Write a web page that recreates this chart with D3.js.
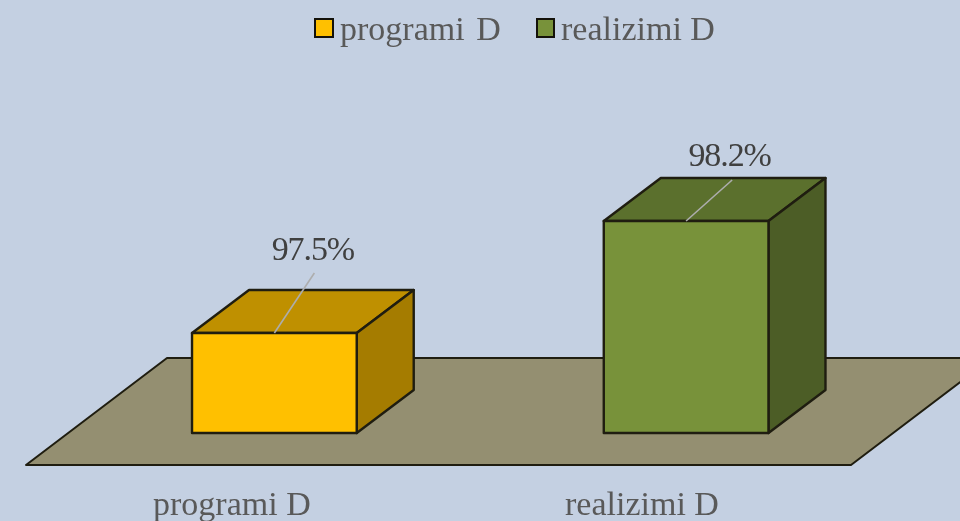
<!DOCTYPE html>
<html>
  <head>
    <meta charset="utf-8">
    <script src="https://d3js.org/d3.v7.min.js"></script>
    <style>
      html, body { margin: 0; padding: 0; background: #c4d0e2; overflow: hidden; }
      svg { display: block; filter: blur(0.4px); }
      text { font-family: "Liberation Serif", serif; }
    </style>
  </head>
  <body>
    <script>
      var categories = ["programi D", "realizimi D"];
      var values = [97.5, 98.2];
      var valueLabels = ["97.5%", "98.2%"];
      var frontColors = ["#ffc000", "#78923a"];
      var topColors = ["#bf9000", "#5b702d"];
      var sideColors = ["#a57c00", "#4c5d26"];

      var width = 960, height = 521;
      var baseY = 433;
      var depthX = 57, depthY = -43;   // offset of a bar's back face
      var stroke = "#1f1d10";

      var svg = d3.select("body").append("svg")
        .attr("width", width)
        .attr("height", height);

      var x = d3.scaleBand().domain(categories).range([68.5, 892])
        .paddingInner(0.6).paddingOuter(0.3);
      var y = d3.scaleLinear().domain([96.875, 98.2]).range([baseY, 221]);

      // floor
      svg.append("path")
        .attr("d", "M26,465 L851,465 L992,358 L167,358 Z")
        .attr("fill", "#948f71")
        .attr("stroke", stroke)
        .attr("stroke-width", 2)
        .attr("stroke-linejoin", "round");

      function poly(pts) {
        return "M" + pts.map(function (p) { return p.join(","); }).join(" L") + " Z";
      }

      var bars = svg.selectAll("g.bar").data(categories).enter()
        .append("g").attr("class", "bar");

      bars.each(function (d, i) {
        var g = d3.select(this);
        var x0 = x(d), x1 = x(d) + x.bandwidth(), t = y(values[i]);
        var faces = [
          [[x0, t], [x1, t], [x1 + depthX, t + depthY], [x0 + depthX, t + depthY]],
          [[x1, t], [x1 + depthX, t + depthY], [x1 + depthX, baseY + depthY], [x1, baseY]],
          [[x0, t], [x1, t], [x1, baseY], [x0, baseY]]
        ];
        var fills = [topColors[i], sideColors[i], frontColors[i]];
        faces.forEach(function (f, k) {
          g.append("path")
            .attr("d", poly(f))
            .attr("fill", fills[k])
            .attr("stroke", stroke)
            .attr("stroke-width", 2.4)
            .attr("stroke-linejoin", "round");
        });
        // leader line and value label
        var cx = x0 + x.bandwidth() / 2;
        g.append("line")
          .attr("x1", cx).attr("y1", t)
          .attr("x2", cx + (i === 0 ? 40 : 46))
          .attr("y2", t + (i === 0 ? -60 : -41))
          .attr("stroke", "#adadad")
          .attr("stroke-width", 1.6);
        g.append("text")
          .attr("x", cx + (i === 0 ? 38.5 : 43.5))
          .attr("y", i === 0 ? 260 : 166)
          .attr("text-anchor", "middle")
          .attr("font-size", 34)
          .attr("letter-spacing", -1.1)
          .attr("fill", "#404040")
          .text(valueLabels[i]);
      });

      // category labels
      var tickX = [153, 565];
      svg.selectAll("text.tick").data(categories).enter()
        .append("text")
        .attr("class", "tick")
        .attr("x", function (d, i) { return tickX[i]; })
        .attr("y", 515)
        .attr("font-size", 34)
        .attr("fill", "#595959")
        .text(function (d) { return d; });

      // legend
      var legendX = [315, 537], legendTextX = [340, 561];
      categories.forEach(function (d, i) {
        svg.append("rect")
          .attr("x", legendX[i]).attr("y", 19)
          .attr("width", i === 0 ? 18 : 17).attr("height", 18)
          .attr("fill", frontColors[i])
          .attr("stroke", "#14120a")
          .attr("stroke-width", 2);
        svg.append("text")
          .attr("x", legendTextX[i]).attr("y", 40)
          .attr("font-size", 34)
          .attr("fill", "#595959")
          .attr("word-spacing", i === 0 ? 3 : 0)
          .text(d);
      });
    </script>
  </body>
</html>
